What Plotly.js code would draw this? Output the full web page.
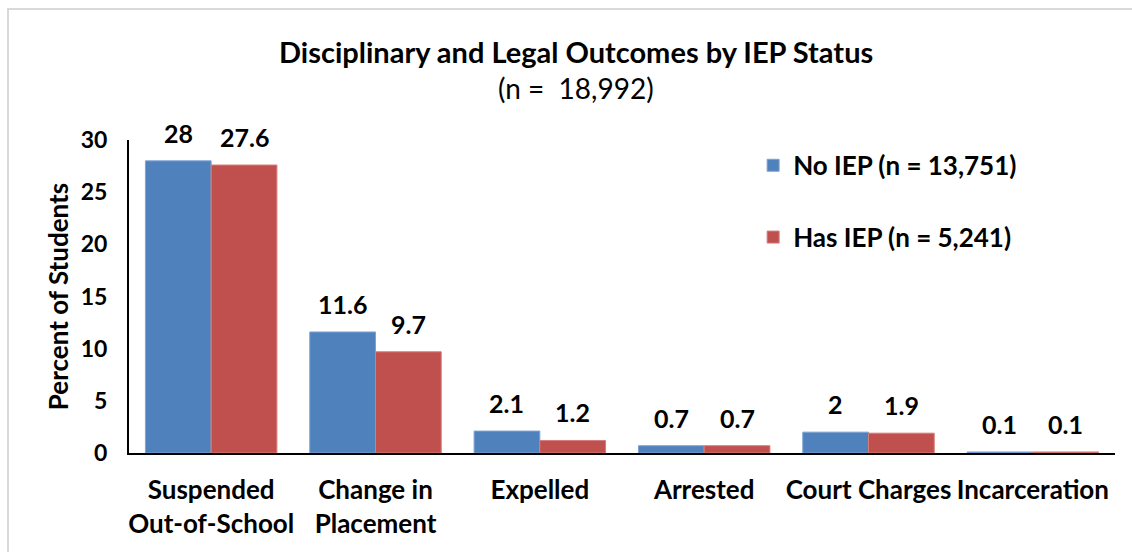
<!DOCTYPE html>
<html>
<head>
<meta charset="utf-8">
<script src="https://cdn.plot.ly/plotly-3.0.1.min.js"></script>
<style>
html,body{margin:0;padding:0;background:#fff;}
#wrap{position:relative;width:1132px;height:552px;overflow:hidden;}
#chart{position:absolute;left:0;top:0;width:1132px;height:552px;}
#frame{position:absolute;left:7px;top:8px;width:1140px;height:560px;border:2px solid #d9d9d9;pointer-events:none;}
</style>
</head>
<body>
<div id="wrap"><div id="chart"></div><div id="frame"></div></div>
<script>
const categories = ["Suspended<br>Out-of-School", "Change in<br>Placement", "Expelled", "Arrested", "Court Charges", "Incarceration"];
const noIEP = [28, 11.6, 2.1, 0.7, 2, 0.1];
const hasIEP = [27.6, 9.7, 1.2, 0.7, 1.9, 0.1];
const seriesNames = ["No IEP (n = 13,751)", "Has IEP (n = 5,241)"];
const titleText = "Disciplinary and Legal Outcomes by IEP Status";
const subtitleText = "(n =  18,992)";
const yTitle = "Percent of Students";

const FONT = "Lato, 'Open Sans', sans-serif";
const blue = "#4F81BD", red = "#C0504D";

const traces = [
  {type:"bar", name:seriesNames[0], x:categories, y:noIEP, marker:{color:blue, line:{color:"#7ea3d3", width:1}}, legendgroup:"a", hoverinfo:"none"},
  {type:"bar", name:seriesNames[1], x:categories, y:hasIEP, marker:{color:red, line:{color:"#d67c7a", width:1}}, legendgroup:"b", hoverinfo:"none"}
];

const annotations = [];
[noIEP, hasIEP].forEach((arr, s) => {
  arr.forEach((v, i) => {
    annotations.push({x:categories[i], y:v, xref:"x", yref:"y", text:String(v), showarrow:false,
      xanchor:"center", yanchor:"bottom", xshift:(s===0?-33:33), yshift:11,
      font:{family:FONT, size:25, color:"#000", weight:"bold"}});
  });
});
annotations.push({x:0.453, y:1, xref:"paper", yref:"paper", yshift:89, text:"<b>"+titleText+"</b>", showarrow:false,
  xanchor:"center", yanchor:"middle", font:{family:FONT, size:29, color:"#000"}});
annotations.push({x:0.453, y:1, xref:"paper", yref:"paper", yshift:52, text:subtitleText, showarrow:false,
  xanchor:"center", yanchor:"middle", font:{family:FONT, size:28, color:"#000"}});

const layout = {
  width:1132, height:552,
  margin:{l:129, r:17, t:140, b:99},
  paper_bgcolor:"#fff", plot_bgcolor:"#fff",
  barmode:"group", bargap:0.2, bargroupgap:0,
  showlegend:true,
  legend:{x:0.633, y:0.994, xanchor:"left", yanchor:"top", bgcolor:"rgba(0,0,0,0)",
    font:{family:FONT, size:26, color:"#000", weight:"bold"}, tracegroupgap:35, traceorder:"grouped"},
  xaxis:{type:"category", showline:true, linecolor:"#000", linewidth:2, ticks:"", showgrid:false,
    tickfont:{family:FONT, size:26, color:"#000", weight:"bold"}, ticklabelstandoff:13, fixedrange:true},
  yaxis:{range:[0,30], dtick:5, showline:true, linecolor:"#000", linewidth:2, ticks:"", showgrid:false, zeroline:false,
    tickfont:{family:FONT, size:23, color:"#000", weight:"bold"}, ticklabelstandoff:15,
    title:{text:yTitle, font:{family:FONT, size:26, color:"#000", weight:"bold"}, standoff:5}, fixedrange:true},
  annotations:annotations
};

Plotly.newPlot("chart", traces, layout, {displayModeBar:false, staticPlot:true});
</script>
</body>
</html>
